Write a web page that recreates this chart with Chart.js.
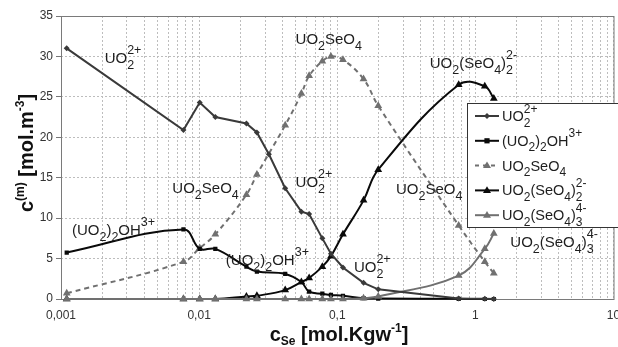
<!DOCTYPE html>
<html>
<head>
<meta charset="utf-8">
<script src="https://cdn.jsdelivr.net/npm/chart.js@4.4.0/dist/chart.umd.min.js"></script>
<style>
  html, body { margin: 0; padding: 0; background: #fff; }
</style>
</head>
<body>
<canvas id="chart" width="618" height="347"></canvas>
<script>
// selenium concentration, mol/kgw (x axis, log)
const cSe = [0.0011, 0.0077, 0.0101, 0.0131, 0.022, 0.0262, 0.032, 0.042, 0.055, 0.0626,
             0.078, 0.090, 0.110, 0.155, 0.198, 0.757, 1.17, 1.36];

// species concentrations, mol/m3 (null = no point at that c_Se)
const uo2       = [31.0, 20.9, 24.3, 22.5, 21.7, 20.6, 17.9, 13.7, 10.8, 10.5, 7.5, 5.6, 3.9, 2.0, 1.2, 0.05, 0.02, 0.01];
const uo2OH     = [5.75, 8.6, 6.2, 6.2, 4.0, 3.4, null, 3.1, 2.1, 0.9, 0.65, 0.5, 0.4, 0.1, 0.05, 0.02, 0.0, 0.0];
const uo2SeO4   = [0.7, 4.6, 6.3, 8.0, 12.9, 15.4, null, 21.5, 25.4, 27.6, 29.4, 30.0, 29.6, 27.2, 23.9, 9.1, 4.6, 3.2];
const uo2SeO4_2 = [0, 0, 0, 0, 0.3, 0.4, null, 1.1, 2.1, 2.6, 4.0, 5.3, 8.0, 12.2, 16.0, 26.5, 26.3, 24.8];
const uo2SeO4_3 = [0, 0, 0, 0, 0, 0, null, 0, 0, 0, 0, 0, 0, 0.1, 0.3, 2.9, 6.2, 8.1];

const xTickValues = [0.001, 0.01, 0.1, 1, 10];
const xTickLabels = ["0,001", "0,01", "0,1", "1", "10"];

const FONT = '"Liberation Sans", Arial, sans-serif';

// rich text pieces: t = normal text, sub / sup drawn stacked after it
const L_UO2    = [{t: "UO", sub: "2", sup: "2+"}];
const L_OH     = [{t: "(UO", sub: "2"}, {t: ")", sub: "2"}, {t: "OH", sup: "3+"}];
const L_SEO4   = [{t: "UO", sub: "2"}, {t: "SeO", sub: "4"}];
const L_SEO4_2 = [{t: "UO", sub: "2"}, {t: "(SeO", sub: "4"}, {t: ")", sub: "2", sup: "2-"}];
const L_SEO4_3 = [{t: "UO", sub: "2"}, {t: "(SeO", sub: "4"}, {t: ")", sub: "3", sup: "4-"}];

// in-plot labels, anchored in data units (left edge, baseline)
const notes = [
  {at: [0.00207, 29.2], txt: L_UO2},
  {at: [0.0499, 31.5], txt: L_SEO4},
  {at: [0.467, 28.6], txt: L_SEO4_2},
  {at: [0.0064, 13.1], txt: L_SEO4},
  {at: [0.0499, 13.9], txt: L_UO2},
  {at: [0.0012, 7.9], txt: L_OH},
  {at: [0.0156, 4.2], txt: L_OH},
  {at: [0.132, 3.3], txt: L_UO2},
  {at: [0.266, 13.0], txt: L_SEO4},
  {at: [1.79, 6.4], txt: L_SEO4_3}
];

// order: lower is drawn on top
const series = [
  {name: L_UO2,    data: uo2,       color: "#3a3a3a", point: "rectRot",  r: 3,   dash: [],     tension: 0,   order: 0},
  {name: L_OH,     data: uo2OH,     color: "#0a0a0a", point: "rect",     r: 2.6, dash: [],     tension: 0.4, order: 2},
  {name: L_SEO4,   data: uo2SeO4,   color: "#707070", point: "triangle", r: 4.2, dash: [5, 4], tension: 0.4, order: 3},
  {name: L_SEO4_2, data: uo2SeO4_2, color: "#0a0a0a", point: "triangle", r: 4.2, dash: [],     tension: 0.4, order: 4},
  {name: L_SEO4_3, data: uo2SeO4_3, color: "#707070", point: "triangle", r: 4.2, dash: [],     tension: 0.4, order: 1}
];

function richWidth(ctx, parts, o) {
  let w = 0;
  for (const p of parts) {
    ctx.font = `${o.weight} ${o.size}px ${FONT}`;
    w += ctx.measureText(p.t).width;
    ctx.font = `${o.weight} ${o.small}px ${FONT}`;
    w += Math.max(p.sub ? ctx.measureText(p.sub).width : 0, p.sup ? ctx.measureText(p.sup).width : 0);
  }
  return w;
}

function drawRich(ctx, parts, x, y, o) {
  let cx = x;
  ctx.fillStyle = o.color;
  ctx.textBaseline = "alphabetic";
  ctx.textAlign = "left";
  for (const p of parts) {
    ctx.font = `${o.weight} ${o.size}px ${FONT}`;
    ctx.fillText(p.t, cx, y);
    cx += ctx.measureText(p.t).width;
    ctx.font = `${o.weight} ${o.small}px ${FONT}`;
    let w = 0;
    if (p.sub) { ctx.fillText(p.sub, cx, y + o.subDy); w = ctx.measureText(p.sub).width; }
    if (p.sup) { ctx.fillText(p.sup, cx, y - o.supDy); w = Math.max(w, ctx.measureText(p.sup).width); }
    cx += w;
  }
}

function marker(ctx, style, x, y, r, color) {
  ctx.fillStyle = color;
  ctx.beginPath();
  if (style === "rectRot") {
    ctx.moveTo(x, y - r); ctx.lineTo(x + r, y); ctx.lineTo(x, y + r); ctx.lineTo(x - r, y);
  } else if (style === "rect") {
    ctx.rect(x - r, y - r, 2 * r, 2 * r);
  } else {
    ctx.moveTo(x, y - r); ctx.lineTo(x + r * 0.95, y + r * 0.6); ctx.lineTo(x - r * 0.95, y + r * 0.6);
  }
  ctx.closePath();
  ctx.fill();
}

const noteStyle = {weight: "normal", size: 15, small: 12.5, subDy: 6, supDy: 9, color: "#1e1e1e"};
const legendStyle = {weight: "normal", size: 14.5, small: 12, subDy: 5.5, supDy: 8.5, color: "#1e1e1e"};
const titleStyle = {weight: "bold", size: 20, small: 12, subDy: 4, supDy: 9, color: "#111"};

const decor = {
  id: "decor",
  beforeDatasetsDraw(chart) {
    const {ctx, chartArea: a} = chart;
    ctx.save();
    ctx.strokeStyle = "#7a7a7a";
    ctx.lineWidth = 1;
    ctx.strokeRect(a.left + 0.5, a.top + 0.5, a.right - a.left, a.bottom - a.top);
    ctx.restore();
  },
  afterDraw(chart) {
    const {ctx, chartArea: a} = chart;
    const xs = chart.scales.x, ys = chart.scales.y;
    ctx.save();

    // x tick labels
    ctx.font = `12px ${FONT}`;
    ctx.fillStyle = "#333";
    ctx.textAlign = "center";
    ctx.textBaseline = "middle";
    xTickValues.forEach((v, i) => ctx.fillText(xTickLabels[i], xs.getPixelForValue(v), a.bottom + 17));

    // in-plot labels
    notes.forEach(n => drawRich(ctx, n.txt, xs.getPixelForValue(n.at[0]), ys.getPixelForValue(n.at[1]), noteStyle));

    // legend
    const bx = 467, by = 103, bh = 124;
    ctx.fillStyle = "#fff";
    ctx.fillRect(bx, by, 160, bh);
    ctx.strokeStyle = "#333";
    ctx.lineWidth = 1;
    ctx.strokeRect(bx + 0.5, by + 0.5, 160, bh);
    series.forEach((s, i) => {
      const yb = by + 18 + i * 24.8;
      const yl = yb - 5;
      ctx.strokeStyle = s.color;
      ctx.lineWidth = 2;
      ctx.setLineDash(s.dash.length ? [4, 4] : []);
      ctx.beginPath();
      ctx.moveTo(bx + 8, yl);
      ctx.lineTo(bx + 32, yl);
      ctx.stroke();
      ctx.setLineDash([]);
      marker(ctx, s.point, bx + 20, yl, s.r, s.color);
      drawRich(ctx, s.name, bx + 35, yb, legendStyle);
    });

    // axis titles
    const xt = [{t: "c", sub: "Se"}, {t: " [mol.Kgw", sup: "-1"}, {t: "]"}];
    const xw = richWidth(ctx, xt, titleStyle);
    drawRich(ctx, xt, 339 - xw / 2, 341, titleStyle);

    const yt = [{t: "c", sup: "(m)"}, {t: " [mol.m", sup: "-3"}, {t: "]"}];
    const yw = richWidth(ctx, yt, titleStyle);
    ctx.translate(33, 153);
    ctx.rotate(-Math.PI / 2);
    drawRich(ctx, yt, -yw / 2, 0, titleStyle);
    ctx.restore();
  }
};

new Chart(document.getElementById("chart"), {
  type: "scatter",
  data: {
    datasets: series.map(s => ({
      data: cSe.map((x, i) => ({x, y: s.data[i]})),
      order: s.order,
      showLine: true,
      spanGaps: true,
      clip: 6,
      borderColor: s.color,
      backgroundColor: s.color,
      borderWidth: 2,
      borderDash: s.dash,
      tension: s.tension,
      pointStyle: s.point,
      pointRadius: s.point === "triangle" ? 4.5 : 3,
      pointBorderWidth: 0,
      pointBackgroundColor: s.color
    }))
  },
  plugins: [decor],
  options: {
    responsive: false,
    animation: false,
    devicePixelRatio: 1,
    layout: { padding: { top: 16, right: 1, left: 0, bottom: 0 } },
    plugins: { legend: { display: false }, tooltip: { enabled: false } },
    scales: {
      x: {
        type: "logarithmic",
        min: 0.001,
        max: 10,
        afterBuildTicks: scale => {
          const t = [];
          for (let e = -3; e < 1; e++) {
            for (let m = 1; m < 10; m++) t.push({value: m * Math.pow(10, e)});
          }
          t.push({value: 10});
          scale.ticks = t;
        },
        afterFit: scale => { scale.height = 48; },
        ticks: { display: false },
        grid: { color: "#bdbdbd", lineWidth: 1, drawTicks: false },
        border: { display: false, dash: [2, 2] }
      },
      y: {
        min: 0,
        max: 35,
        afterFit: scale => { scale.width = 61; },
        ticks: { stepSize: 5, color: "#333", font: { size: 12, family: FONT }, padding: 3 },
        grid: { color: "#bdbdbd", lineWidth: 1, tickLength: 5, tickColor: "#777" },
        border: { display: false, dash: [2, 2] }
      }
    }
  }
});
</script>
</body>
</html>
